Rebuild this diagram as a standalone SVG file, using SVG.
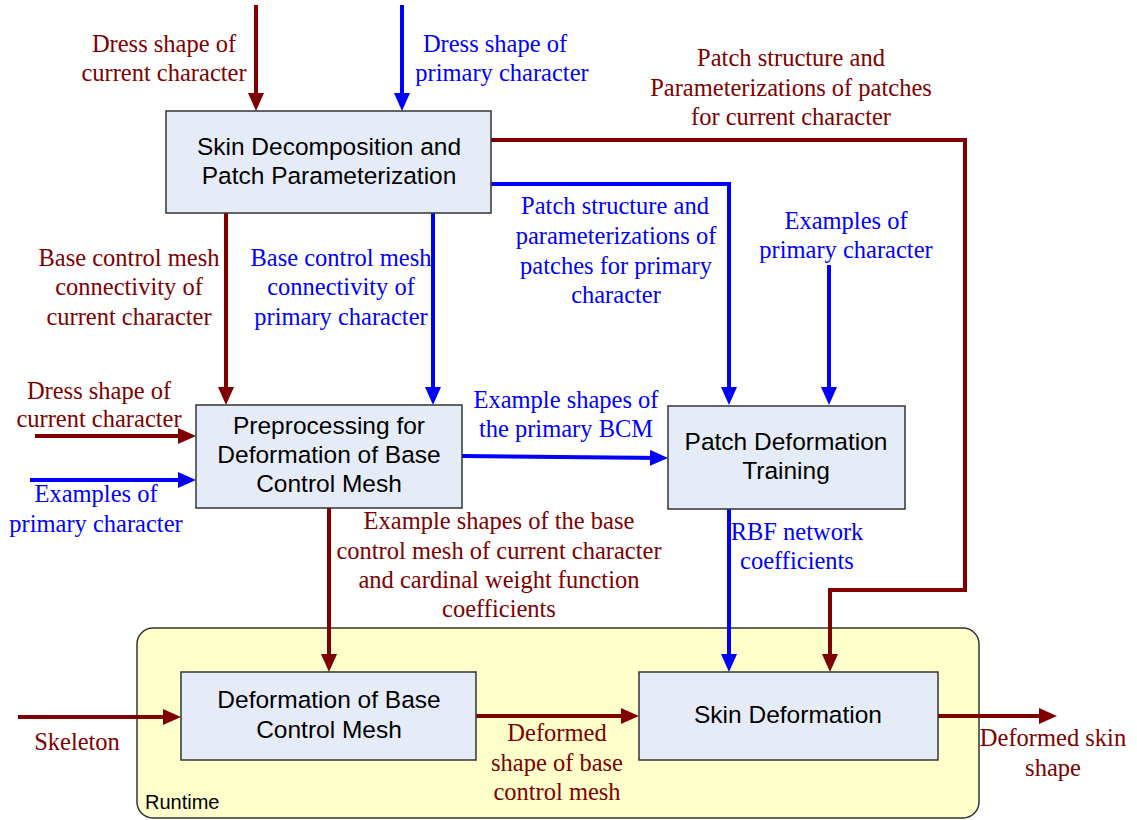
<svg xmlns="http://www.w3.org/2000/svg" width="1137" height="820" viewBox="0 0 1137 820">
  <style>
    .box { fill: #E6ECF7; stroke: #333333; stroke-width: 1.5; }
    .runtime { fill: #FFFFCC; stroke: #333333; stroke-width: 1.5; }
    .node { font-family: "Liberation Sans", Arial, sans-serif; font-size: 24.5px; fill: #000; text-anchor: middle; }
    .lbl { font-family: "Liberation Serif", "Times New Roman", serif; font-size: 24.5px; text-anchor: middle; }
    .red { fill: #800000; }
    .blue { fill: #0000FF; }
    .wr { fill: none; stroke: #800000; stroke-width: 4; }
    .wb { fill: none; stroke: #0000FF; stroke-width: 4; }
  </style>
  <defs>
    <marker id="ahRed" viewBox="0 0 18 16" refX="13" refY="8" markerWidth="18" markerHeight="16" markerUnits="userSpaceOnUse" orient="auto">
      <path d="M0,0 L18,8 L0,16 z" fill="#800000"/>
    </marker>
    <marker id="ahBlue" viewBox="0 0 18 16" refX="13" refY="8" markerWidth="18" markerHeight="16" markerUnits="userSpaceOnUse" orient="auto">
      <path d="M0,0 L18,8 L0,16 z" fill="#0000FF"/>
    </marker>
  </defs>

  <!-- runtime container -->
  <g id="runtime">
    <rect class="runtime" x="137" y="628" width="842" height="190" rx="16" ry="16"/>
    <text x="145" y="809" font-family="Liberation Sans, Arial, sans-serif" font-size="20" fill="#000">Runtime</text>
  </g>

  <!-- connectors -->
  <g id="connectors">
    <path class="wr" d="M256,5 V106" marker-end="url(#ahRed)"/>
    <path class="wb" d="M402,5 V106" marker-end="url(#ahBlue)"/>
    <path class="wr" d="M491,140 H965 V590 H830 V667" marker-end="url(#ahRed)"/>
    <path class="wb" d="M491,184 H729 V400" marker-end="url(#ahBlue)"/>
    <path class="wr" d="M226,213 V400" marker-end="url(#ahRed)"/>
    <path class="wb" d="M433,213 V400" marker-end="url(#ahBlue)"/>
    <path class="wr" d="M35,436 H191" marker-end="url(#ahRed)"/>
    <path class="wb" d="M30,480 H191" marker-end="url(#ahBlue)"/>
    <path class="wb" d="M462,456 L663,458" marker-end="url(#ahBlue)"/>
    <path class="wb" d="M829,265 V400" marker-end="url(#ahBlue)"/>
    <path class="wr" d="M329,508 V667" marker-end="url(#ahRed)"/>
    <path class="wb" d="M729,509 V667" marker-end="url(#ahBlue)"/>
    <path class="wr" d="M18,717 H176" marker-end="url(#ahRed)"/>
    <path class="wr" d="M476,716 H634" marker-end="url(#ahRed)"/>
    <path class="wr" d="M938,716 H1052" marker-end="url(#ahRed)"/>
  </g>

  <!-- connector labels -->
  <g id="labels">
    <text class="lbl red"><tspan x="164" y="52">Dress shape of</tspan><tspan x="164" y="81">current character</tspan></text>
    <text class="lbl blue"><tspan x="495" y="52">Dress shape of</tspan><tspan x="502" y="81">primary character</tspan></text>
    <text class="lbl red"><tspan x="791" y="66">Patch structure and</tspan><tspan x="791" y="96">Parameterizations of patches</tspan><tspan x="791" y="125">for current character</tspan></text>
    <text class="lbl red"><tspan x="129" y="266">Base control mesh</tspan><tspan x="129" y="295">connectivity of</tspan><tspan x="129" y="325">current character</tspan></text>
    <text class="lbl blue"><tspan x="341" y="266">Base control mesh</tspan><tspan x="341" y="295">connectivity of</tspan><tspan x="341" y="325">primary character</tspan></text>
    <text class="lbl blue"><tspan x="615" y="214">Patch structure and</tspan><tspan x="616" y="244">parameterizations of</tspan><tspan x="616" y="274">patches for primary</tspan><tspan x="616" y="303">character</tspan></text>
    <text class="lbl blue"><tspan x="846" y="229">Examples of</tspan><tspan x="846" y="258">primary character</tspan></text>
    <text class="lbl red"><tspan x="99" y="399">Dress shape of</tspan><tspan x="99" y="427">current character</tspan></text>
    <text class="lbl blue"><tspan x="96" y="502">Examples of</tspan><tspan x="96" y="532">primary character</tspan></text>
    <text class="lbl blue"><tspan x="566" y="408">Example shapes of</tspan><tspan x="566" y="437">the primary BCM</tspan></text>
    <text class="lbl red"><tspan x="499" y="529">Example shapes of the base</tspan><tspan x="499" y="559">control mesh of current character</tspan><tspan x="499" y="588">and cardinal weight function</tspan><tspan x="499" y="617">coefficients</tspan></text>
    <text class="lbl blue"><tspan x="797" y="540">RBF network</tspan><tspan x="797" y="569">coefficients</tspan></text>
    <text class="lbl red"><tspan x="77" y="750">Skeleton</tspan></text>
    <text class="lbl red"><tspan x="557" y="741">Deformed</tspan><tspan x="557" y="771">shape of base</tspan><tspan x="557" y="800">control mesh</tspan></text>
    <text class="lbl red"><tspan x="1053" y="746">Deformed skin</tspan><tspan x="1053" y="776">shape</tspan></text>
  </g>

  <!-- process nodes -->
  <g id="skin-decomposition">
    <rect class="box" x="166" y="111" width="325" height="102"/>
    <text class="node"><tspan x="329" y="155">Skin Decomposition and</tspan><tspan x="329" y="184">Patch Parameterization</tspan></text>
  </g>
  <g id="preprocessing">
    <rect class="box" x="196" y="405" width="266" height="103"/>
    <text class="node"><tspan x="329" y="434">Preprocessing for</tspan><tspan x="329" y="463">Deformation of Base</tspan><tspan x="329" y="492">Control Mesh</tspan></text>
  </g>
  <g id="patch-training">
    <rect class="box" x="668" y="406" width="237" height="103"/>
    <text class="node"><tspan x="786" y="450">Patch Deformation</tspan><tspan x="786" y="479">Training</tspan></text>
  </g>
  <g id="bcm-deformation">
    <rect class="box" x="181" y="672" width="295" height="88"/>
    <text class="node"><tspan x="329" y="708">Deformation of Base</tspan><tspan x="329" y="738">Control Mesh</tspan></text>
  </g>
  <g id="skin-deformation">
    <rect class="box" x="639" y="672" width="299" height="88"/>
    <text class="node"><tspan x="788" y="723">Skin Deformation</tspan></text>
  </g>
</svg>
